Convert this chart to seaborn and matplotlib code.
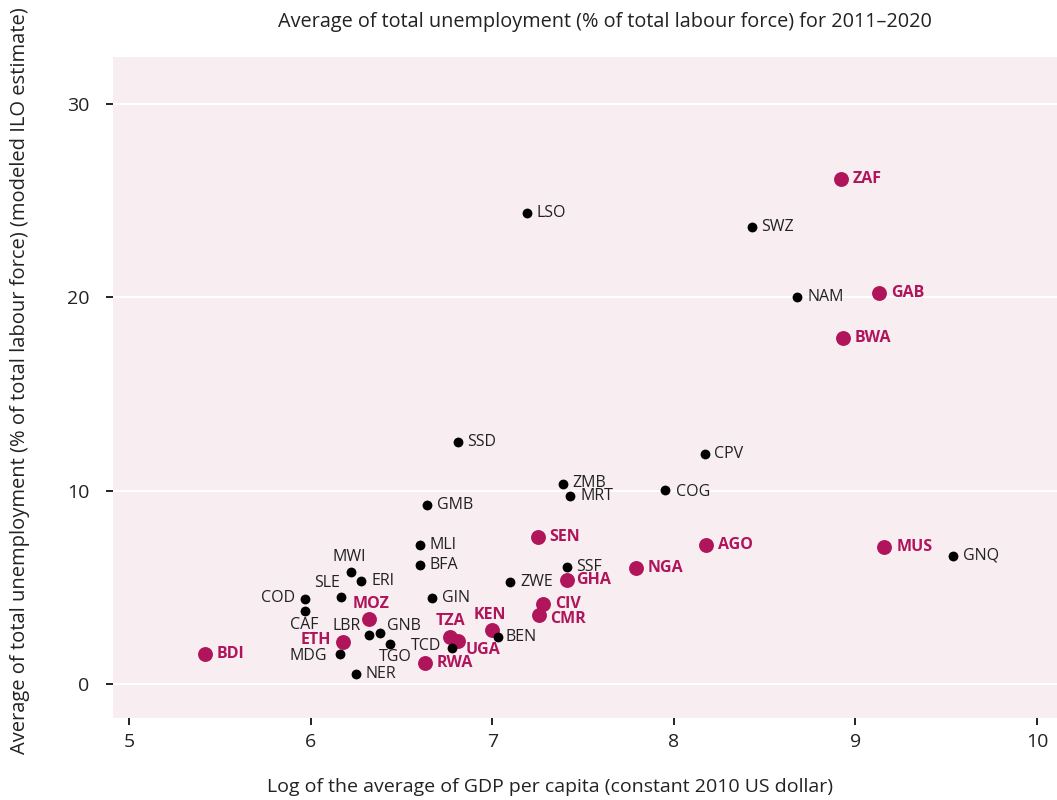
import pandas as pd
import seaborn as sns
import matplotlib.pyplot as plt

sns.set_style("white")
plt.rcParams["font.family"] = ["Open Sans", "Noto Sans", "DejaVu Sans"]

# country codes, log of average GDP per capita, average unemployment rate
codes = ["BDI", "ETH", "MOZ", "RWA", "TZA", "UGA", "KEN", "BEN", "TCD", "NER",
         "MDG", "TGO", "LBR", "GNB", "CAF", "COD", "SLE", "ERI", "MWI", "BFA",
         "MLI", "GMB", "SSD", "GIN", "ZWE", "SEN", "SSF", "GHA", "CIV", "CMR",
         "NGA", "AGO", "ZMB", "MRT", "COG", "CPV", "LSO", "SWZ", "ZAF", "NAM",
         "GAB", "BWA", "MUS", "GNQ"]
log_gdp = [5.42, 6.18, 6.32, 6.63, 6.77, 6.81, 7.00, 7.03, 6.78, 6.25,
           6.16, 6.44, 6.32, 6.38, 5.97, 5.97, 6.17, 6.28, 6.22, 6.60,
           6.60, 6.64, 6.81, 6.67, 7.10, 7.25, 7.41, 7.41, 7.28, 7.26,
           7.79, 8.18, 7.39, 7.43, 7.95, 8.17, 7.19, 8.43, 8.92, 8.68,
           9.13, 8.93, 9.16, 9.54]
unemployment = [1.55, 2.19, 3.35, 1.10, 2.41, 2.21, 2.79, 2.43, 1.88, 0.50,
                1.57, 2.09, 2.55, 2.62, 3.79, 4.40, 4.52, 5.31, 5.81, 6.14,
                7.21, 9.26, 12.50, 4.43, 5.26, 7.60, 6.04, 5.38, 4.12, 3.57,
                6.02, 7.21, 10.35, 9.73, 10.04, 11.88, 24.37, 23.64, 26.12, 20.04,
                20.21, 17.88, 7.07, 6.64]
highlighted = ["BDI", "ETH", "MOZ", "RWA", "TZA", "UGA", "KEN", "SEN", "GHA",
               "CIV", "CMR", "NGA", "AGO", "ZAF", "GAB", "BWA", "MUS"]

df = pd.DataFrame({"code": codes, "gdp": log_gdp, "unemp": unemployment})
df["group"] = ["focus" if c in highlighted else "other" for c in codes]

MAGENTA = "#B0145A"
PANEL = "#F8EDF1"
INK = "#222222"

# label placement (offset in points, horizontal alignment)
label_pos = {
    "MWI": (-0.7, 10.5, "center"), "SLE": (-0.7, 10, "right"),
    "COD": (-7, 0.7, "right"), "CAF": (-0.7, -10.5, "center"),
    "MOZ": (2, 11, "center"), "LBR": (-6, 6.5, "right"),
    "GNB": (5, 5, "left"), "ETH": (-8.5, 1, "right"),
    "MDG": (-9, -2, "right"), "TGO": (3.5, -10, "center"),
    "TCD": (-8, 1.5, "right"), "TZA": (0, 11.5, "center"),
    "UGA": (6, -6, "left"), "KEN": (-1.5, 11, "center"),
    "BEN": (6, 0, "left"), "CMR": (8, -3, "left"),
    "COG": (8, -1.5, "left"), "GHA": (7, 0, "left"),
    "ZMB": (6.5, 0.5, "left"),
}

fig = plt.figure(figsize=(10.57, 8), dpi=100)
ax = fig.add_axes([113 / 1057, 82 / 800, 944 / 1057, 661 / 800])
ax.set_facecolor(PANEL)

sns.scatterplot(data=df[df.group == "focus"], x="gdp", y="unemp", color=MAGENTA,
                s=115, linewidth=0, ax=ax, zorder=3)
sns.scatterplot(data=df[df.group == "other"], x="gdp", y="unemp", color="black",
                s=50, linewidth=0, ax=ax, zorder=4)

for _, r in df.iterrows():
    focus = r.group == "focus"
    dx, dy, ha = label_pos.get(r.code, (8.5 if focus else 7, 0, "left"))
    ax.annotate(r.code, (r.gdp, r.unemp), xytext=(dx, dy), textcoords="offset points",
                ha=ha, va="center", fontsize=11.5,
                fontweight="bold" if focus else "normal",
                color=MAGENTA if focus else INK, zorder=5)

ax.set_xlim(4.912, 10.11)
ax.set_ylim(-1.76, 32.44)
ax.set_xticks([5, 6, 7, 8, 9, 10])
ax.set_yticks([0, 10, 20, 30])
ax.yaxis.grid(True, color="white", linewidth=1.6)
ax.xaxis.grid(False)
for sp in ax.spines.values():
    sp.set_visible(False)
ax.tick_params(axis="both", direction="out", length=5, width=1.4, color=INK,
               labelsize=14, labelcolor=INK)
ax.tick_params(axis="y", pad=12, left=True)
ax.tick_params(axis="x", pad=6, bottom=True)
ax.set_xlabel("")
ax.set_ylabel("")

fig.text(605 / 1057, 1 - 22 / 800,
         "Average of total unemployment (% of total labour force) for 2011\u20132020",
         ha="center", va="center", fontsize=14.3, color=INK)
fig.text(550 / 1057, 1 - 787 / 800,
         "Log of the average of GDP per capita (constant 2010 US dollar)",
         ha="center", va="center", fontsize=14, color=INK)
fig.text(20 / 1057, 1 - 381 / 800,
         "Average of total unemployment (% of total labour force) (modeled ILO estimate)",
         ha="center", va="center", rotation=90, fontsize=14.5, color=INK)

fig.savefig("out.png", dpi=100)
